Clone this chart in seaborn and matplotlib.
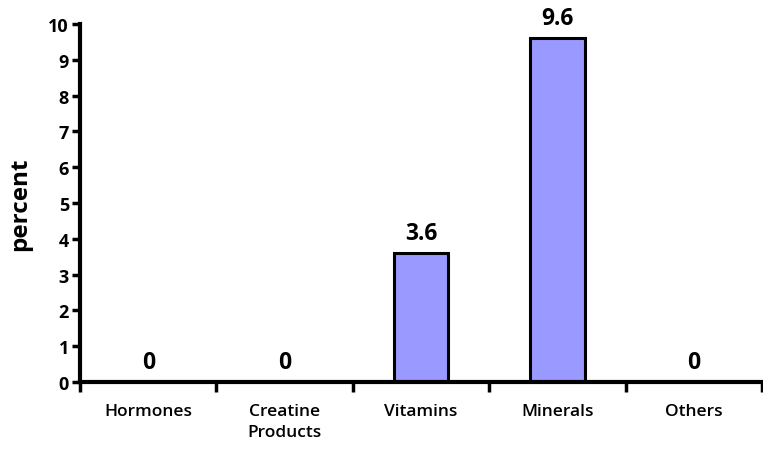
import matplotlib
matplotlib.use("Agg")
import matplotlib.pyplot as plt
import seaborn as sns
import pandas as pd
import numpy as np

categories = ["Hormones", "Creatine\nProducts", "Vitamins", "Minerals", "Others"]
values = [0, 0, 3.6, 9.6, 0]
value_labels = ["0", "0", "3.6", "9.6", "0"]
yticks = [0, 1, 2, 3, 4, 5, 6, 7, 8, 9, 10]

sns.set_style("white")
plt.rcParams['font.family'] = ['Open Sans', 'DejaVu Sans']
plt.rcParams['text.color'] = 'black'
plt.rcParams['axes.labelcolor'] = 'black'
plt.rcParams['xtick.color'] = 'black'
plt.rcParams['ytick.color'] = 'black'

df = pd.DataFrame({"category": categories, "percent": values})

fig = plt.figure(figsize=(7.63, 4.52), dpi=100)
ax = fig.add_axes([0.1049, 0.1527, 0.8938, 0.792])
sns.barplot(data=df, x="category", y="percent", color="#9999FF", saturation=1,
            width=0.4, edgecolor="black", linewidth=2.2, ax=ax)

ax.set_xlim(-0.5, len(categories) - 0.5)
ax.set_ylim(0, 10)
ax.set_yticks(yticks)
ax.set_yticklabels([str(t) for t in yticks], fontsize=13, fontweight="bold")

ax.set_xticks(np.arange(len(categories) + 1) - 0.5)
ax.set_xticklabels([])
ax.set_xticks(np.arange(len(categories)), minor=True)
ax.set_xticklabels(categories, minor=True, fontsize=12.5, fontweight="semibold",
                   linespacing=1.45)
ax.tick_params(axis="x", which="minor", bottom=True, length=0, pad=15)
ax.tick_params(axis="x", which="major", bottom=True, length=7, width=2.5, direction="out")
ax.tick_params(axis="y", left=True, length=6, width=2.5, direction="out", pad=2)

ax.set_xlabel("")
ax.set_ylabel("percent", fontsize=17.5, fontweight="bold", labelpad=12)

for s in ["top", "right"]:
    ax.spines[s].set_visible(False)
for s in ["left", "bottom"]:
    ax.spines[s].set_linewidth(3)
    ax.spines[s].set_color("black")

for i, (v, lab) in enumerate(zip(values, value_labels)):
    ax.annotate(lab, (i, v), xytext=(0, 6), textcoords="offset points",
                ha="center", va="bottom", fontsize=16.5, fontweight="bold")

fig.savefig("out.png", dpi=100)
